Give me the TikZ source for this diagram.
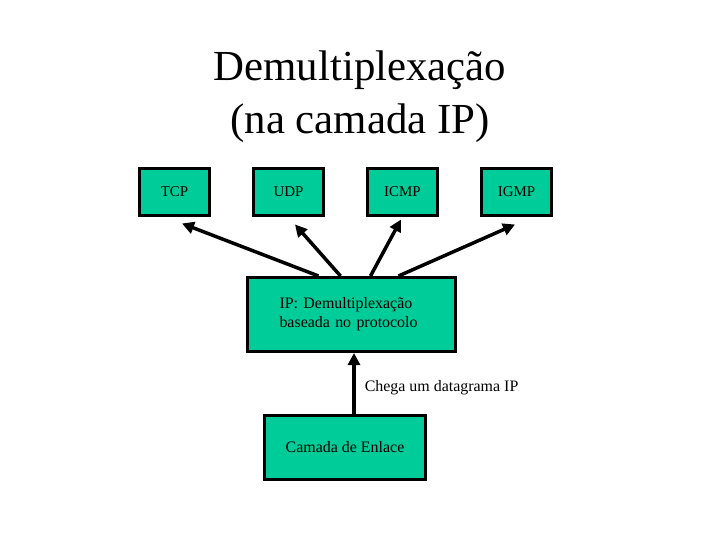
\documentclass[tikz,border=0pt]{standalone}
\usepackage{fontspec}
\setmainfont{Liberation Serif}
\usetikzlibrary{positioning, arrows.meta, calc}
\definecolor{boxgreen}{RGB}{0,204,153}

\begin{document}
\begin{tikzpicture}[x=1bp, y=-1bp,
  proto/.style={draw, line width=3bp, fill=boxgreen, minimum width=70bp, minimum height=47bp, inner sep=0pt, font=\fontsize{15}{18}\selectfont},
  layer/.style={draw, line width=3bp, fill=boxgreen, font=\fontsize{16}{19}\selectfont},
  arr/.style={-{Triangle[length=12bp,width=12bp]}, line width=3.5bp}]
\useasboundingbox (0,0) rectangle (720,540);
% title
\node[align=center, inner sep=0pt, font=\fontsize{43}{53}\selectfont] (title) at (360,97) {Demultiplexação\\(na camada IP)};
% upper protocols
\node[proto] (tcp) at (174.5,192) {TCP};
\node[proto] (udp) at (288.5,192) {UDP};
\node[proto] (icmp) at (402.5,192) {ICMP};
\node[proto] (igmp) at (516.5,192) {IGMP};
% IP layer and link layer
\node[layer, text width=144bp, inner xsep=32bp, minimum height=74bp, align=left] (ip) at (351.5,314.5) {IP: Demultiplexação\\baseada no protocolo};
\node[layer, minimum width=161bp, minimum height=64bp] (enlace) at (345,447.5) {Camada de Enlace};
% demultiplexing arrows
\foreach \dst/\a/\b/\c in {tcp/72.5/7.5/-6.5, udp/94.5/6.5/-7.5, icmp/124.5/-1.5/-2.5, igmp/152.5/-1.5/-7.5}
  \draw[arr] ([xshift=\a bp]ip.north west) -- ([xshift=\b bp, yshift=\c bp]\dst.south);
\draw[arr] ([xshift=9bp]enlace.north) -- ([xshift=9bp]enlace.north |- ip.south)
  node[midway, anchor=west, xshift=9bp, yshift=-4bp, inner sep=0pt, font=\fontsize{16}{19}\selectfont] (chega) {Chega um datagrama IP};
\end{tikzpicture}
\end{document}
